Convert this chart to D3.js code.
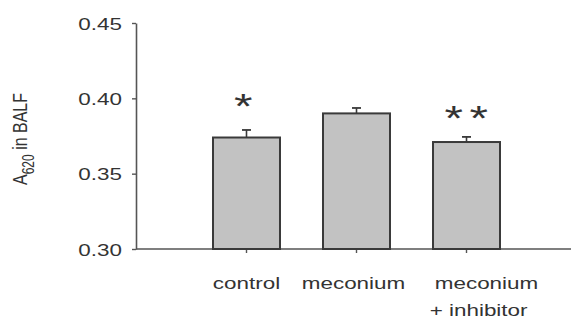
<!DOCTYPE html>
<html>
<head>
<meta charset="utf-8">
<script src="https://cdn.jsdelivr.net/npm/d3@7"></script>
<style>
  body { margin: 0; background: #fff; }
  text { font-family: "Liberation Sans", Arial, sans-serif; fill: #333; }
</style>
</head>
<body>
<div id="chart"></div>
<script>
// values
const groups = ['control', 'meconium', 'meconium\n+ inhibitor'];
const means = [0.374, 0.390, 0.371];
const errors = [0.005, 0.0036, 0.0034];
const marks = ['*', '', '**'];
const yTicks = [0.30, 0.35, 0.40, 0.45];

const W = 571, H = 320;
const stretch = 1.32; // the source picture is squeezed wide

const svg = d3.select('#chart').append('svg')
  .attr('width', W)
  .attr('height', H);

const x = d3.scaleBand()
  .domain(groups)
  .range([213, 500])
  .paddingInner(0.391)
  .paddingOuter(0);

const y = d3.scaleLinear()
  .domain([0.30, 0.45])
  .range([249, 23]);

const axisX0 = 136;

// y axis
const gy = svg.append('g')
  .attr('transform', `translate(${axisX0},0)`)
  .call(d3.axisLeft(y).tickValues(yTicks).tickFormat(d3.format('.2f')).tickSize(4).tickSizeOuter(0));
gy.select('.domain').attr('stroke', '#555').attr('stroke-width', 1.6);
gy.selectAll('.tick line').attr('stroke', '#555').attr('stroke-width', 1.4);
gy.selectAll('.tick text')
  .attr('x', null)
  .attr('dy', '0.36em')
  .attr('transform', `translate(-14,0) scale(${stretch},1)`)
  .style('font-size', '17px')
  .style('font-family', '"Liberation Sans", Arial, sans-serif')
  .attr('fill', '#333');

// x axis line across to the right edge
svg.append('line')
  .attr('x1', axisX0).attr('x2', W)
  .attr('y1', y(0.30)).attr('y2', y(0.30))
  .attr('stroke', '#555').attr('stroke-width', 1.6);

// small ticks under each bar
svg.selectAll('.xtick')
  .data(groups)
  .enter().append('line')
  .attr('class', 'xtick')
  .attr('x1', d => x(d) + x.bandwidth() / 2)
  .attr('x2', d => x(d) + x.bandwidth() / 2)
  .attr('y1', y(0.30))
  .attr('y2', y(0.30) + 4)
  .attr('stroke', '#555').attr('stroke-width', 1.4);

// bars
svg.selectAll('.bar')
  .data(groups)
  .enter().append('rect')
  .attr('class', 'bar')
  .attr('x', d => x(d))
  .attr('y', (d, i) => y(means[i]))
  .attr('width', x.bandwidth())
  .attr('height', (d, i) => y(0.30) - y(means[i]))
  .attr('fill', '#c2c2c2')
  .attr('stroke', '#3a3a3a')
  .attr('stroke-width', 2);

// error bars (upper only)
const err = svg.selectAll('.err')
  .data(groups)
  .enter().append('g')
  .attr('class', 'err');
err.append('line')
  .attr('x1', d => x(d) + x.bandwidth() / 2)
  .attr('x2', d => x(d) + x.bandwidth() / 2)
  .attr('y1', (d, i) => y(means[i]))
  .attr('y2', (d, i) => y(means[i] + errors[i]))
  .attr('stroke', '#3a3a3a').attr('stroke-width', 1.6);
err.append('line')
  .attr('x1', d => x(d) + x.bandwidth() / 2 - 4.5)
  .attr('x2', d => x(d) + x.bandwidth() / 2 + 4.5)
  .attr('y1', (d, i) => y(means[i] + errors[i]))
  .attr('y2', (d, i) => y(means[i] + errors[i]))
  .attr('stroke', '#3a3a3a').attr('stroke-width', 1.8);

// significance stars
svg.selectAll('.star')
  .data(groups)
  .enter().append('text')
  .attr('class', 'star')
  .attr('text-anchor', 'middle')
  .attr('transform', (d, i) => `translate(${x(d) + x.bandwidth() / 2 + (i === 2 ? 3 : 0)},${y(means[i] + errors[i]) - 12 + (i === 2 ? 5 : 0)}) scale(${stretch},1)`)
  .style('font-size', '36px')
  .style('letter-spacing', '5px')
  .attr('fill', '#222')
  .text((d, i) => marks[i]);

// category labels
const labelShift = [0, -3, 20];
const lab = svg.selectAll('.xlab')
  .data(groups)
  .enter().append('text')
  .attr('class', 'xlab')
  .attr('text-anchor', 'middle')
  .attr('transform', (d, i) => `translate(${x(d) + x.bandwidth() / 2 + labelShift[i]},289) scale(${stretch},1)`)
  .style('font-size', '17px')
  .attr('fill', '#333');
lab.selectAll('tspan')
  .data(d => d.split('\n'))
  .enter().append('tspan')
  .attr('x', (d, i) => i === 0 ? 0 : -6)
  .attr('dy', (d, i) => i === 0 ? 0 : 27)
  .text(d => d);

// y axis title
const yt = svg.append('text')
  .attr('text-anchor', 'middle')
  .attr('transform', `translate(27,139) scale(${stretch},1) rotate(-90)`)
  .style('font-size', '16px')
  .attr('fill', '#333');
yt.append('tspan').text('A');
yt.append('tspan').attr('dy', 5).style('font-size', '12px').text('620');
yt.append('tspan').attr('dy', -5).text(' in BALF');
</script>
</body>
</html>
